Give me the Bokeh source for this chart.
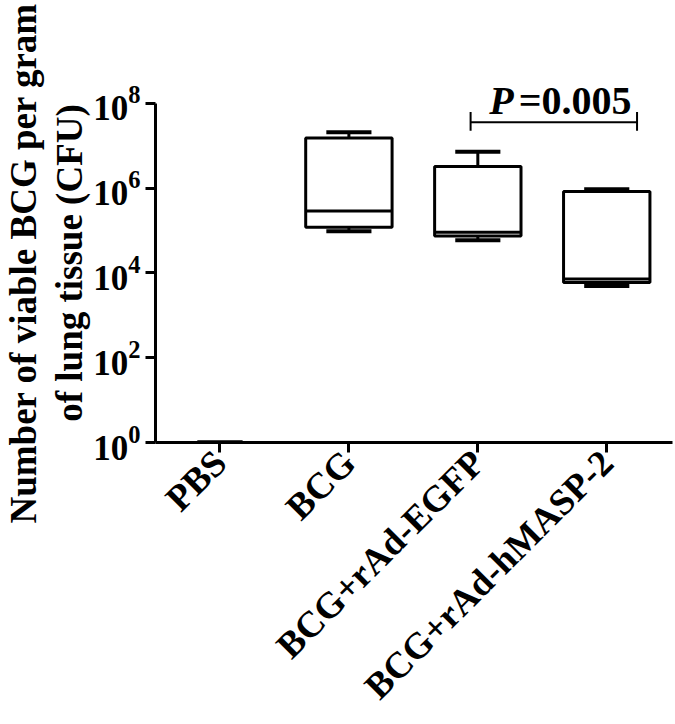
import math
from bokeh.plotting import figure
from bokeh.models import FixedTicker, Label, ColumnDataSource, Range1d
from bokeh.embed import file_html
from bokeh.resources import INLINE

# ---- data ----
categories = ["PBS", "BCG", "BCG+rAd-EGFP", "BCG+rAd-hMASP-2"]
whisker_low = [1, 9.5e4, 5.9e4, 4.9e3]
q1 = [1, 1.18e5, 7.4e4, 5.9e3]
median = [1, 2.86e5, 9.0e4, 7.2e3]
q3 = [1, 1.5e7, 3.2e6, 8.3e5]
whisker_high = [1, 2.05e7, 7.2e6, 9.3e5]
y_ticks = [1, 1e2, 1e4, 1e6, 1e8]
p_text = "=0.005"
sig_groups = (2, 3)

# ---- layout / style ----
FONT = "Liberation Serif"
BOX_W = 0.67
CAP_W = 0.35
LW = 3

xs = [i + 0.5 for i in range(len(categories))]
y_top = 10 ** (8 + 20 / 43.125)   # head-room above 10^8 for the p-value text

p = figure(width=675, height=724, y_axis_type="log",
           x_range=Range1d(0, 4.01), y_range=Range1d(1, y_top),
           output_backend="svg", toolbar_location=None,
           min_border_left=153, min_border_top=83,
           min_border_bottom=276, min_border_right=3)
p.outline_line_color = None
p.xgrid.visible = False
p.ygrid.visible = False
p.background_fill_color = "white"

src = ColumnDataSource(dict(
    x=xs,
    left=[x - BOX_W / 2 for x in xs], right=[x + BOX_W / 2 for x in xs],
    cl=[x - CAP_W / 2 for x in xs], cr=[x + CAP_W / 2 for x in xs],
    wl=whisker_low, q1=q1, med=median, q3=q3, wh=whisker_high,
))

# whisker stems
p.segment(x0="x", x1="x", y0="q3", y1="wh", source=src, line_color="black", line_width=LW)
p.segment(x0="x", x1="x", y0="wl", y1="q1", source=src, line_color="black", line_width=LW)
# caps
p.segment(x0="cl", x1="cr", y0="wh", y1="wh", source=src, line_color="black", line_width=LW + 1)
p.segment(x0="cl", x1="cr", y0="wl", y1="wl", source=src, line_color="black", line_width=LW + 1)
# boxes
p.quad(left="left", right="right", bottom="q1", top="q3", source=src,
       fill_color="white", line_color="black", line_width=LW)
# medians
p.segment(x0="left", x1="right", y0="med", y1="med", source=src, line_color="black", line_width=LW)

# significance bracket
bx0 = xs[sig_groups[0]] - 0.056
bx1 = xs[sig_groups[1]] + 0.235
by = 10 ** 7.55
p.segment(x0=[bx0, bx0, bx1], x1=[bx1, bx0, bx1],
          y0=[by, 10 ** 7.35, 10 ** 7.35], y1=[by, 10 ** 7.79, 10 ** 7.79],
          line_color="black", line_width=2)
ty = 10 ** 8.058
p.add_layout(Label(x=xs[sig_groups[0]] + 0.089, y=ty, text="P", text_font=FONT,
                   text_font_style="bold italic", text_font_size="40px",
                   text_color="black", text_baseline="middle"))
p.add_layout(Label(x=xs[sig_groups[0]] + 0.318, y=ty, text=p_text, text_font=FONT,
                   text_font_style="bold", text_font_size="40px",
                   text_color="black", text_baseline="middle"))

# axes
for ax in (p.xaxis[0], p.yaxis[0]):
    ax.axis_line_width = LW
    ax.axis_line_color = "black"
    ax.major_tick_line_width = LW
    ax.major_tick_line_color = "black"
    ax.major_tick_out = 10
    ax.major_tick_in = 0
    ax.minor_tick_line_color = None
    ax.major_label_text_font = FONT
    ax.major_label_text_font_style = "bold"
    ax.major_label_text_color = "black"

p.xaxis.ticker = FixedTicker(ticks=xs)
p.xaxis.major_label_overrides = {x: c for x, c in zip(xs, categories)}
p.xaxis.major_label_orientation = math.pi / 4
p.xaxis.major_label_text_font_size = "37px"
p.xaxis.major_label_standoff = 4

p.yaxis.ticker = FixedTicker(ticks=y_ticks)
p.yaxis.bounds = (1, 1e8)
p.yaxis.major_label_text_font_size = "35px"
p.yaxis.major_label_standoff = 5
p.yaxis.axis_label = "Number of viable BCG per gram\nof lung tissue (CFU)"
p.yaxis.axis_label_text_font = FONT
p.yaxis.axis_label_text_font_style = "bold"
p.yaxis.axis_label_text_font_size = "37px"
p.yaxis.axis_label_text_line_height = 1.12
p.yaxis.axis_label_text_color = "black"
p.yaxis.axis_label_standoff = 0

open("out.html", "w").write(file_html(p, INLINE))
